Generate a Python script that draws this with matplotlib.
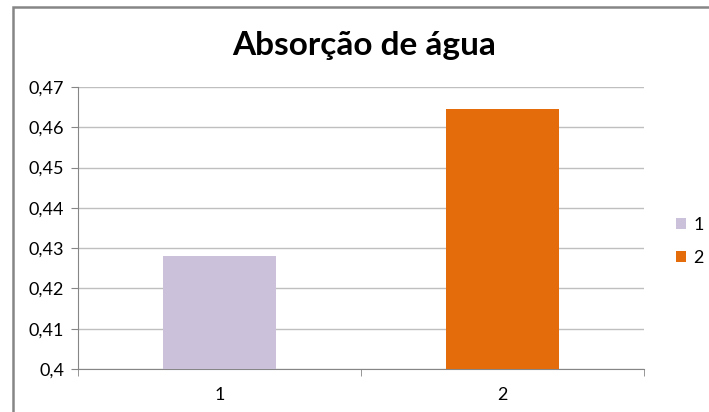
import matplotlib.pyplot as plt
from matplotlib.patches import Rectangle
from matplotlib.ticker import FuncFormatter

categories = ["1", "2"]
values = [0.428, 0.4645]
colors = ["#CCC1DA", "#E46C0A"]
yticks = [0.40, 0.41, 0.42, 0.43, 0.44, 0.45, 0.46, 0.47]

plt.rcParams['font.family'] = ['Lato', 'DejaVu Sans']

fig = plt.figure(figsize=(7.09, 4.12), dpi=100)
ax = fig.add_axes([78 / 709, 43 / 412, 566 / 709, 282 / 412])

# chart frame (only top and left edges visible)
fig.add_artist(Rectangle((13 / 709, -0.1), 1.2, (405 / 412) + 0.1,
                         transform=fig.transFigure, fill=False,
                         edgecolor="#868686", linewidth=1.8))

x = [0, 1]
for i in range(len(categories)):
    ax.bar(x[i], values[i] - 0.4, bottom=0.4, width=0.4, color=colors[i],
           label=categories[i], zorder=3)

ax.set_xlim(-0.5, 1.5)
ax.set_ylim(0.4, 0.47)
ax.set_yticks(yticks)
ax.yaxis.set_major_formatter(FuncFormatter(lambda v, p: ("%g" % round(v, 2)).replace(".", ",")))
ax.set_xticks(x)
ax.set_xticklabels(categories)
ax.set_xticks([-0.5, 0.5, 1.5], minor=True)
ax.tick_params(axis="x", which="major", length=0, pad=13, labelsize=13)
ax.tick_params(axis="x", which="minor", length=5, color="#868686")
ax.tick_params(axis="y", length=5, color="#868686", labelsize=13, pad=5)

ax.grid(axis="y", color="#BFBFBF", linewidth=1, zorder=0)
for s in ["top", "right"]:
    ax.spines[s].set_visible(False)
ax.spines["left"].set_color("#868686")
ax.spines["bottom"].set_color("#868686")

fig.text(364 / 709, 1 - 46 / 412, "Absorção de água", ha="center", va="center",
         fontsize=24, fontweight="bold")

ax.legend(loc="center left", bbox_to_anchor=(1.028, 0.452), frameon=False,
          fontsize=13, handlelength=0.55, handleheight=0.55, labelspacing=0.95,
          handletextpad=0.4)

fig.savefig("out.png", dpi=100)
